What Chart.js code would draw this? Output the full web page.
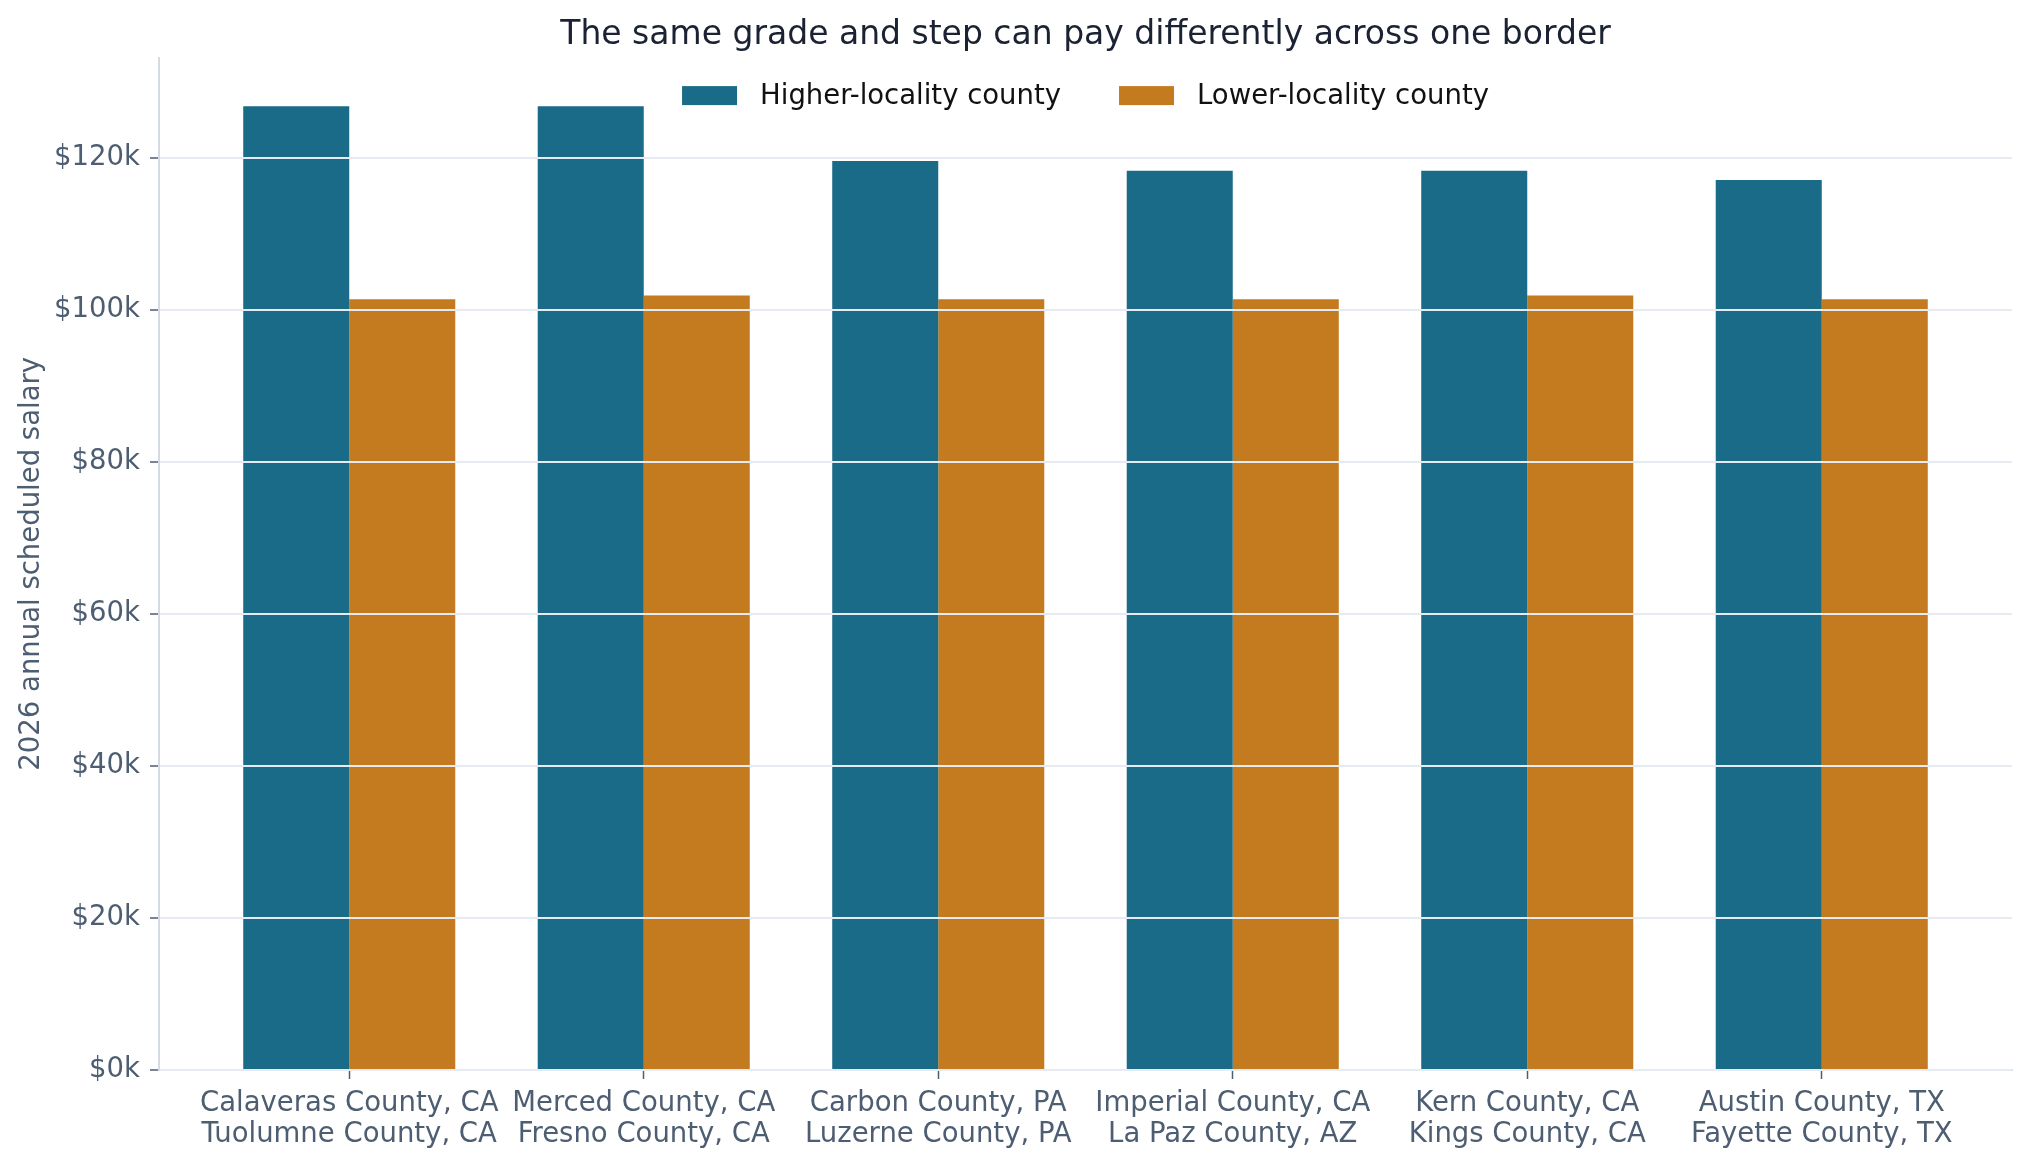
<!DOCTYPE html>
<html lang="en">
<head>
  <meta charset="UTF-8">
  <title>The same grade and step can pay differently across one border</title>
  <script src="https://cdn.jsdelivr.net/npm/chart.js@4/dist/chart.umd.min.js"></script>
  <style>
    html, body { margin: 0; padding: 0; background: #fff; }
    .box { position: relative; width: 2029px; height: 1167px; }
  </style>
</head>
<body>
<div class="box"><canvas id="chart"></canvas></div>
<script>
// ---------------------------------------------------------------------------
// Data
// ---------------------------------------------------------------------------

const higherCounties = ['Calaveras County, CA', 'Merced County, CA', 'Carbon County, PA',
                        'Imperial County, CA', 'Kern County, CA', 'Austin County, TX'];
const lowerCounties  = ['Tuolumne County, CA', 'Fresno County, CA', 'Luzerne County, PA',
                        'La Paz County, AZ', 'Kings County, CA', 'Fayette County, TX'];
const higherPay = [126800, 126800, 119600, 118300, 118300, 117100];
const lowerPay  = [101400, 101900, 101400, 101400, 101900, 101400];
const yTicks    = [0, 20000, 40000, 60000, 80000, 100000, 120000];

const TEAL   = '#1a6b87';
const ORANGE = '#c47a1f';
const SLATE  = '#4d5d72';
const FONT   = '"DejaVu Sans", "Liberation Sans", sans-serif';
const FS     = 27.5;

// ---------------------------------------------------------------------------
// Plugins: title centred over the plot, legend inside the plot
// ---------------------------------------------------------------------------

const titleOverPlot = {
  id: 'titleOverPlot',
  afterLayout(chart) {
    const t = chart.titleBlock;
    if (!t) return;
    t.left  = chart.chartArea.left;
    t.right = chart.chartArea.right;
  }
};

const insideLegend = {
  id: 'insideLegend',
  afterDraw(chart) {
    const ctx  = chart.ctx;
    const area = chart.chartArea;
    const sets = chart.data.datasets;
    const boxW = 55, boxH = 19, textGap = 23, itemGap = 58;
    ctx.save();
    ctx.font = FS + 'px ' + FONT;
    const widths = sets.map(d => boxW + textGap + ctx.measureText(d.label).width);
    const total  = widths.reduce((a, b) => a + b, 0) + itemGap * (sets.length - 1);
    let x = (area.left + area.right) / 2 - total / 2;
    const y = area.top + 38;
    sets.forEach((d, i) => {
      ctx.fillStyle = d.backgroundColor;
      ctx.fillRect(x, y - boxH / 2, boxW, boxH);
      ctx.fillStyle = '#111';
      ctx.textBaseline = 'middle';
      ctx.textAlign = 'left';
      ctx.fillText(d.label, x + boxW + textGap, y + 1);
      x += widths[i] + itemGap;
    });
    ctx.restore();
  }
};

// ---------------------------------------------------------------------------
// Chart
// ---------------------------------------------------------------------------

const idx = higherPay.map((_, i) => i);

new Chart(document.getElementById('chart'), {
  type: 'bar',
  plugins: [titleOverPlot, insideLegend],
  data: {
    datasets: [
      {
        label: 'Higher-locality county',
        data: idx.map(i => ({ x: i, y: higherPay[i] })),
        backgroundColor: TEAL, borderWidth: 0,
      },
      {
        label: 'Lower-locality county',
        data: idx.map(i => ({ x: i, y: lowerPay[i] })),
        backgroundColor: ORANGE, borderWidth: 0,
      }
    ]
  },
  options: {
    responsive: true,
    maintainAspectRatio: false,
    animation: false,
    devicePixelRatio: 1,
    categoryPercentage: 0.72,
    barPercentage: 1.0,
    layout: { padding: { left: 0, right: 17, top: 0, bottom: 0 } },
    plugins: {
      legend:  { display: false },
      tooltip: { enabled: false },
      title: {
        display: true,
        text: 'The same grade and step can pay differently across one border',
        color: '#1a2233',
        font: { family: FONT, size: 33, weight: 'normal', lineHeight: 1.2 },
        padding: { top: 16, bottom: 2 },
      },
    },
    scales: {
      x: {
        type: 'linear',
        offset: false,
        min: -0.646,
        max: 5.646,
        afterFit: (s) => { s.height = 97; },
        grid:   { offset: false, drawOnChartArea: false, drawTicks: true, tickLength: 9,
                  tickColor: SLATE, tickWidth: 1.5 },
        border: { color: '#d5dbe5', width: 2 },
        ticks: {
          stepSize: 1,
          includeBounds: false,
          autoSkip: false,
          minRotation: 0, maxRotation: 0,
          padding: 9,
          color: SLATE,
          font: { family: FONT, size: FS, lineHeight: 1.14 },
          callback: (v) => Number.isInteger(v) && higherCounties[v]
            ? [higherCounties[v], lowerCounties[v]] : '',
        },
      },
      y: {
        min: 0,
        max: 133200,
        afterFit: (s) => { s.width = 159; },
        afterBuildTicks: (s) => { s.ticks = yTicks.map(v => ({ value: v })); },
        // grid sits above the bars, like the reference
        grid:   { z: 1, color: '#e6eaf1', lineWidth: 2, tickLength: 9,
                  tickColor: SLATE, tickWidth: 1.5 },
        border: { z: 1, color: '#d5dbe5', width: 2 },
        ticks: {
          padding: 10,
          color: SLATE,
          font: { family: FONT, size: FS },
          callback: (v) => '$' + (v / 1000) + 'k',
        },
        title: {
          display: true,
          text: '2026 annual scheduled salary',
          color: SLATE,
          font: { family: FONT, size: FS, lineHeight: 1.2 },
          padding: { top: 15, bottom: 0 },
        },
      },
    },
  },
});
</script>
</body>
</html>
